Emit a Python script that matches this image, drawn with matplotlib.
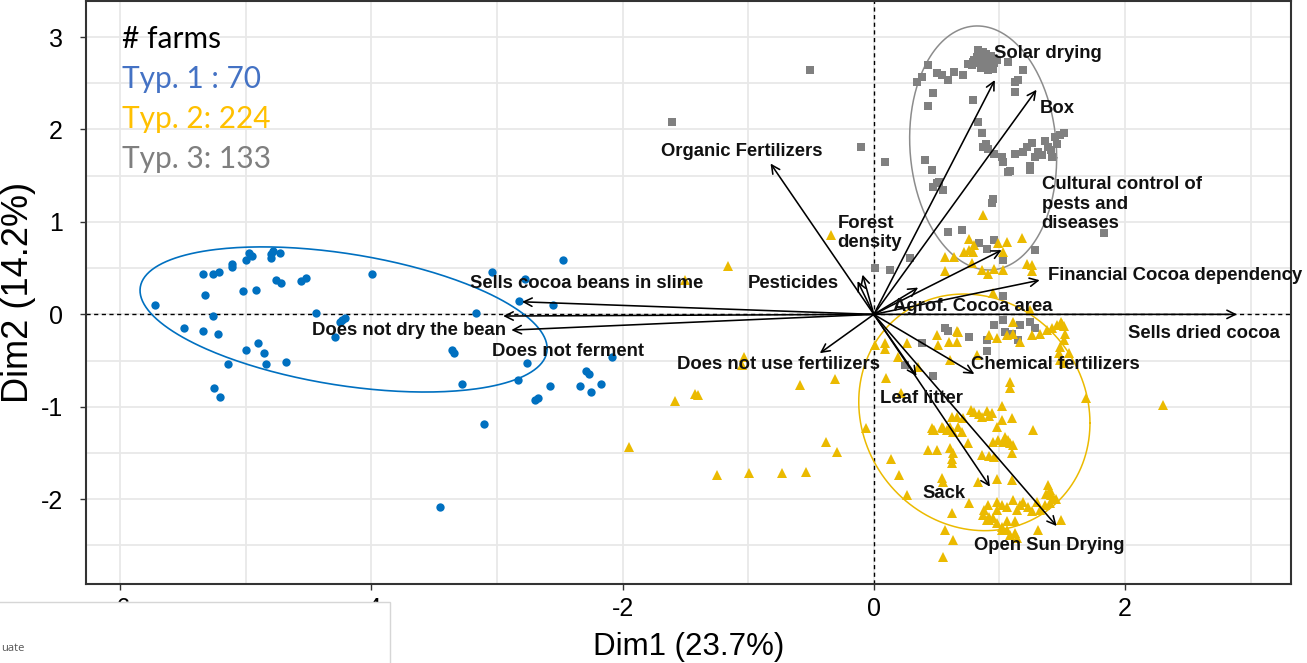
import numpy as np
import matplotlib
matplotlib.use('Agg')
import matplotlib.pyplot as plt
from matplotlib.patches import FancyArrowPatch, Rectangle

plt.rcParams['axes.unicode_minus'] = False

# ---- farm coordinates on Dim1 / Dim2 ----
typ1_x = [-5.72, -5.34, -5.26, -5.21, -5.32, -5.26, -5.49, -5.34, -5.22, -5.11, -5.11, -5.00, -4.97, -4.95,
          -4.80, -4.78, -4.73, -4.80, -5.02, -4.92, -4.76, -4.72, -4.56, -4.52, -5.00, -4.90, -4.85, -4.84,
          -5.14, -4.68, -5.25, -5.20, -4.44, -4.23, -4.21, -4.25, -4.29, -3.99, -3.04, -2.47, -2.78, -2.82,
          -2.55, -3.17, -3.36, -3.34, -2.76, -3.28, -2.83, -2.58, -2.70, -2.67, -3.10, -3.45, -2.29, -2.27,
          -2.34, -2.25, -2.17, -2.08]
typ1_y = [0.10, 0.44, 0.44, 0.46, 0.21, -0.02, -0.15, -0.18, -0.21, 0.55, 0.51, 0.59, 0.66, 0.63,
          0.65, 0.69, 0.66, 0.61, 0.25, 0.26, 0.37, 0.34, 0.36, 0.39, -0.39, -0.31, -0.42, -0.54,
          -0.54, -0.52, -0.80, -0.89, 0.02, -0.06, -0.04, -0.08, -0.25, 0.44, 0.46, 0.59, 0.38, 0.14,
          0.10, 0.02, -0.39, -0.42, -0.53, -0.75, -0.71, -0.77, -0.93, -0.91, -1.19, -2.08, -0.61, -0.65,
          -0.77, -0.84, -0.75, -0.46]

typ2_x = [0.87, 0.76, 1.18, 0.57, 0.64, 0.72, 0.76, 0.80, 0.79, 0.99, 1.06, 1.03, 0.57, 0.78, 0.86, 0.91,
          0.96, 1.03, 1.22, 1.26, 1.26, 0.95, 1.11, 1.24, 1.49,
          -0.34, -1.16, -1.50, -1.03, -1.05, -0.59, -0.31, -1.58, -1.42, -1.40, -1.95, -1.25, -0.99, -0.73,
          -0.54, -0.38, -0.29, -0.06, 0.01, 2.30,
          0.66, 0.50, 0.60, 0.66, 0.51, 0.67, 0.09, 0.26, 0.09, 0.82, 0.61, 0.10, 0.22, 0.19, 0.35,
          0.92, 0.98, 1.06, 1.11, 1.16, 1.26, 1.32, 1.38, 1.42, 1.46, 1.50, 1.51, 1.52, 1.51, 1.48, 1.47,
          1.48, 1.51, 1.55, 1.08, 1.08, 1.69,
          0.77, 0.80, 0.84, 0.86, 0.90, 0.92, 0.94, 0.66, 0.71, 0.62, 1.02, 1.10, 1.02, 0.46, 0.48, 0.47,
          0.54, 0.55, 0.58, 0.61, 0.63, 0.67, 0.70, 0.98, 1.27, 0.43, 0.50, 0.61, 0.63, 0.62, 0.62, 0.75,
          0.86, 0.92, 0.96, 0.95, 0.99, 1.03, 1.07, 1.08, 1.11, 1.10, 1.04, 0.14, 0.20, 0.26, 0.54, 0.55,
          0.83, 0.98, 1.10, 0.76, 0.62, 0.57, 0.63, 0.55,
          1.39, 1.40, 1.37, 1.41, 1.43, 1.45, 1.40, 0.91, 0.88, 0.87, 0.92, 0.90, 0.95, 0.98, 1.02, 0.98,
          1.06, 1.11, 1.14, 1.16, 1.19, 1.23, 1.26, 1.30, 1.32, 1.36, 0.92, 0.98, 1.02, 1.06, 1.12, 1.02,
          1.06, 1.12, 1.08, 1.14, 1.31, 1.49]
typ2_y = [1.07, 0.82, 0.83, 0.62, 0.62, 0.67, 0.70, 0.75, 0.68, 0.77, 0.78, 0.67, 0.47, 0.56, 0.48, 0.44,
          0.49, 0.48, 0.55, 0.53, 0.47, 0.23, -0.08, 0.05, -0.08,
          0.86, 0.52, 0.37, -0.46, -0.55, -0.76, -0.70, -0.94, -0.86, -0.87, -1.44, -1.74, -1.72, -1.72,
          -1.70, -1.38, -1.49, -1.23, -0.33, -0.98,
          -0.18, -0.22, -0.30, -0.30, -0.33, -0.19, -0.31, -0.31, -0.37, -0.44, -0.49, -0.69, -0.85, -0.46, -0.57,
          -0.22, -0.26, -0.22, -0.21, -0.30, -0.22, -0.21, -0.17, -0.15, -0.12, -0.10, -0.13, -0.21, -0.28, -0.35, -0.42,
          -0.49, -0.53, -0.42, -0.73, -0.80, -0.90,
          -1.03, -1.06, -1.08, -1.11, -1.05, -1.10, -1.07, -1.11, -1.12, -1.11, -0.99, -1.12, -1.14, -1.23, -1.25, -1.25,
          -1.22, -1.23, -1.25, -1.22, -1.27, -1.22, -1.27, -1.22, -1.25, -1.47, -1.47, -1.45, -1.50, -1.56, -1.61, -1.39,
          -1.52, -1.53, -1.54, -1.38, -1.36, -1.38, -1.36, -1.39, -1.41, -1.50, -1.33, -1.56, -1.74, -1.95, -1.77, -1.81,
          -1.81, -1.78, -1.79, -2.04, -2.15, -2.33, -2.44, -2.63,
          -1.85, -1.90, -1.94, -1.95, -2.00, -2.00, -2.04, -2.06, -2.12, -2.17, -2.19, -2.22, -2.20, -2.03, -2.06, -2.12,
          -2.08, -2.01, -2.12, -2.06, -2.03, -2.08, -2.13, -2.03, -2.12, -2.06, -2.22, -2.26, -2.30, -2.24, -2.24, -2.33,
          -2.33, -2.37, -2.39, -2.42, -2.33, -2.22]

typ3_x = [0.83, 0.80, 0.84, 0.86, 0.88, 0.90, 0.92, 0.94, 0.96, 0.85, 0.91, 0.87, 0.78, 0.82, 0.89, 0.93,
          0.98, 0.86, 0.95, 0.81, 0.88,
          0.43, 0.38, 0.34, 0.50, 0.54, 0.59, 0.64, 0.71, 0.75, 0.79, 1.07, 1.19, 1.12, 1.15, 1.12, 0.47,
          0.43, 0.79, 0.83, 0.86, 0.87, 0.91, 0.89, 0.96, 1.02, 1.03, 1.08, 1.12, 1.19, 1.22, 1.26, 1.28,
          1.31, 1.36, 1.39, 1.41, 1.44, 1.48, 1.51, 1.24, 1.34, 1.46, 1.42, 0.41, 0.46, 0.50, 0.47, 0.52, 0.55,
          -0.51, -1.61, -0.10, 0.09, 0.01, 0.95, 0.94, 0.59, 0.70, 0.84, 0.90, 0.96, 1.03, 1.28, 0.29, 0.13,
          1.83, 1.03, 1.07, 1.24,
          0.57, 0.59, 0.76, 0.90, 0.90, 0.96, 1.03, 1.04, 1.10, 1.15, 1.16, 1.24, 1.28, 0.38, 0.25, 0.47]
typ3_y = [2.86, 2.75, 2.80, 2.73, 2.78, 2.70, 2.76, 2.68, 2.72, 2.66, 2.64, 2.84, 2.70, 2.78, 2.82, 2.79,
          2.75, 2.69, 2.65, 2.72, 2.74,
          2.70, 2.57, 2.51, 2.61, 2.59, 2.53, 2.62, 2.59, 2.71, 2.73, 2.73, 2.64, 2.51, 2.53, 2.41, 2.40,
          2.25, 2.32, 2.08, 1.96, 1.81, 1.79, 1.84, 1.74, 1.70, 1.65, 1.55, 1.74, 1.76, 1.81, 1.85, 1.70,
          1.76, 1.88, 1.81, 1.78, 1.92, 1.94, 1.96, 1.60, 1.72, 1.84, 1.70, 1.67, 1.56, 1.42, 1.38, 1.43, 1.35,
          2.64, 2.08, 1.81, 1.65, 0.50, 1.25, 1.20, 0.89, 0.91, 0.77, 0.71, 0.80, 0.59, 0.70, 0.61, 0.48,
          0.88, 0.20, 1.54, 1.56,
          -0.15, -0.18, -0.24, -0.28, -0.40, -0.12, -0.06, -0.19, -0.21, -0.28, -0.12, -0.08, -0.15, -0.31, -0.55, -0.67]

# ---- variable arrows (tips on the correlation scale used by the plot) ----
var_names = ['Solar drying', 'Box', 'Cultural control of\npests and\ndiseases', 'Financial Cocoa dependency',
             'Agrof. Cocoa area', 'Sells dried cocoa', 'Chemical fertilizers', 'Leaf litter', 'Sack',
             'Open Sun Drying', 'Does not use fertilizers', 'Organic Fertilizers', 'Forest\ndensity',
             'Pesticides', 'Sells cocoa beans in slime', 'Does not dry the bean', 'Does not ferment']
var_x = [0.963, 1.295, 1.017, 1.32, 0.353, 2.89, 0.80, 0.34, 0.924, 1.455, -0.43, -0.822, -0.09, -0.13,
         -2.80, -2.95, -2.885]
var_y = [2.535, 2.43, 0.695, 0.37, 0.29, 0.0, -0.645, -0.667, -1.864, -2.29, -0.42, 1.632, 0.43, 0.36,
         0.136, -0.018, -0.17]

# label anchor (left edge, vertical centre)
label_pos = [(0.96, 2.82), (1.32, 2.23), (1.335, 1.19), (1.39, 0.425), (0.15, 0.09), (2.02, -0.205),
             (0.77, -0.54), (0.048, -0.915), (0.39, -1.935), (0.80, -2.50), (-1.566, -0.54), (-1.69, 1.76),
             (-0.29, 0.88), (-1.0, 0.335), (-3.21, 0.335), (-4.475, -0.17), (-3.04, -0.40)]

# confidence ellipses: centre x, centre y, sd x, sd y, correlation
ell_typ1 = [-4.22, -0.055, 1.62, 0.785, -0.40]
ell_typ2 = [0.80, -1.06, 0.92, 1.28, -0.09]
ell_typ3 = [0.87, 1.80, 0.585, 1.32, -0.08]

counts = [70, 224, 133]

c_blue = '#0070C0'
c_gold = '#EBBA00'
c_grey = '#808080'


def ellipse_xy(p, n=300):
    cx, cy, sx, sy, rho = p
    t = np.linspace(0, 2 * np.pi, n)
    ex = cx + sx * np.cos(t)
    ey = cy + sy * (rho * np.cos(t) + np.sqrt(1 - rho ** 2) * np.sin(t))
    return ex, ey


fig = plt.figure(figsize=(13.07, 6.63), dpi=100)
ax = fig.add_axes([86 / 1307, 1 - 584.3 / 663, (1291 - 86) / 1307, 583.3 / 663])

ax.set_xlim(-6.27, 3.32)
ax.set_ylim(-2.92, 3.39)
ax.set_xticks([-6, -4, -2, 0, 2])
ax.set_xticks([-5, -3, -1, 1, 3], minor=True)
ax.set_yticks([-2, -1, 0, 1, 2, 3])
ax.set_yticks([-2.5, -1.5, -0.5, 0.5, 1.5, 2.5], minor=True)
ax.grid(which='both', color='#E8E8E8', lw=1.3, zorder=0)
ax.set_axisbelow(True)
ax.tick_params(which='minor', length=0)
ax.tick_params(axis='both', which='major', length=4.5, width=1, color='#333333',
               labelsize=18, labelcolor='black')
ax.tick_params(axis='y', pad=12)
ax.tick_params(axis='x', pad=5)
for lab in ax.get_xticklabels() + ax.get_yticklabels():
    lab.set_family('Liberation Sans')
for s in ax.spines.values():
    s.set_color('#333333')
    s.set_linewidth(1.5)

ax.axhline(0, color='black', lw=1.0, ls=(0, (3, 2.5)), zorder=1)
ax.axvline(0, color='black', lw=1.0, ls=(0, (3, 2.5)), zorder=1)

for p, c, w in [(ell_typ1, c_blue, 1.2), (ell_typ2, c_gold, 1.1), (ell_typ3, '#8C8C8C', 1.1)]:
    ex, ey = ellipse_xy(p)
    ax.plot(ex, ey, color=c, lw=w, zorder=2)

ax.plot(typ3_x, typ3_y, ls='none', marker='s', ms=5.8, color=c_grey, mew=0, zorder=3)
ax.plot(typ2_x, typ2_y, ls='none', marker='^', ms=7.2, color=c_gold, mew=0, zorder=3)
ax.plot(typ1_x, typ1_y, ls='none', marker='o', ms=6, color=c_blue, mew=0, zorder=3)

for i in range(len(var_names)):
    arr = FancyArrowPatch((0, 0), (var_x[i], var_y[i]), arrowstyle='->,head_length=0.6,head_width=0.3',
                          mutation_scale=10, lw=1.15, color='black', shrinkA=0, shrinkB=0, zorder=4)
    ax.add_patch(arr)
    lx, ly = label_pos[i]
    ax.text(lx, ly, var_names[i], ha='left', va='center', fontsize=13.3, fontweight='bold',
            family='Liberation Sans', color='#111111', linespacing=1.2, zorder=5)

# group counts, top-left
leg_txt = ['# farms', 'Typ. 1 : %d' % counts[0], 'Typ. 2: %d' % counts[1], 'Typ. 3: %d' % counts[2]]
leg_col = ['black', '#4472C4', '#FFC000', '#7F7F7F']
leg_y = [0.919, 0.851, 0.782, 0.714]
for t, c, yy in zip(leg_txt, leg_col, leg_y):
    ax.text(0.0299, yy, t, transform=ax.transAxes, ha='left', va='baseline', fontsize=21.5,
            family='Lato', color=c, zorder=6)

fig.text(688.5 / 1307, 1 - 655 / 663, 'Dim1 (23.7%)', ha='center', va='baseline', fontsize=22.5,
         family='Liberation Sans')
fig.text(19 / 1307, 1 - 292 / 663, 'Dim2 (14.2%)', ha='center', va='center', rotation=90, fontsize=26,
         family='Liberation Sans')

# overlapping window fragment in the bottom-left corner of the screenshot
fig.add_artist(Rectangle((-0.01, -0.01), 390 / 1307 + 0.01, (663 - 601.7) / 663 + 0.01,
                         transform=fig.transFigure, facecolor='white', edgecolor='#D6D6D6', lw=1, zorder=10))
fig.text(1 / 1307, 1 - 651 / 663, 'uate', fontsize=8, family='Open Sans', color='#555555', zorder=11)

fig.savefig('out.png', dpi=100)
